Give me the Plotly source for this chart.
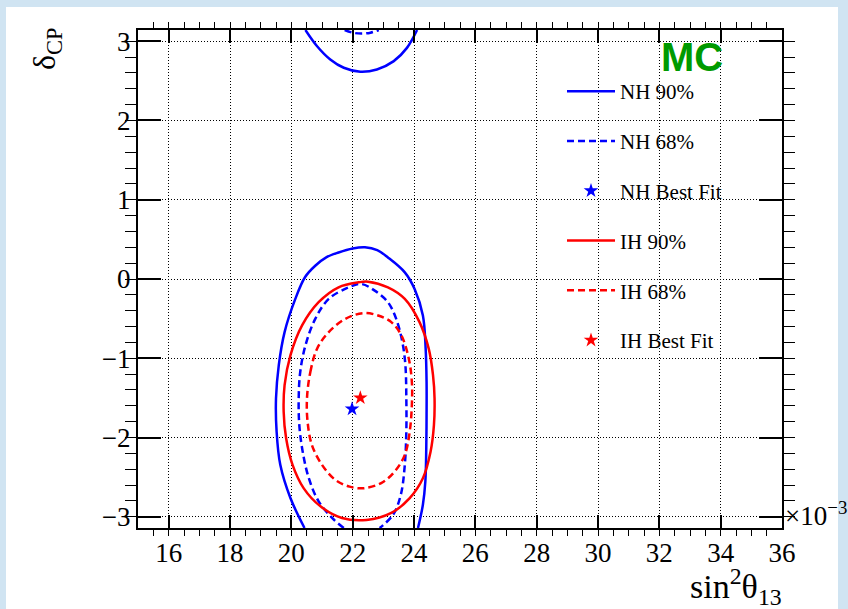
import plotly.graph_objects as go

# sin^2(theta13) in units of 1e-3, delta_CP in radians
# NH 90% C.L. contour (main part, then the piece that wraps past -pi to +pi)
nh90_s13 = [20.43, 19.97, 19.64, 19.52, 19.50, 19.59, 19.78, 20.13, 20.45, 20.78, 21.15, 21.54, 22.00, 22.40,
            22.80, 23.15, 23.70, 24.02, 24.29, 24.38, 24.41, 24.41, 24.40, 24.37, 24.29, 24.13]
nh90_dcp = [-3.1416, -2.764, -2.345, -1.926, -1.508, -1.089, -0.670, -0.251, 0.025, 0.167, 0.276, 0.335, 0.385, 0.400,
            0.365, 0.272, 0.084, -0.126, -0.461, -0.879, -1.298, -1.717, -2.136, -2.554, -2.848, -3.1416]
nh90_wrap_s13 = [20.46, 20.84, 21.27, 21.71, 22.25, 22.79, 23.34, 23.77, 24.10]
nh90_wrap_dcp = [3.1416, 2.937, 2.770, 2.665, 2.615, 2.644, 2.749, 2.916, 3.1416]

# NH 68% C.L. contour
nh68_s13 = [21.71, 21.33, 20.89, 20.57, 20.37, 20.26, 20.24, 20.29, 20.46, 20.78, 21.22, 21.87,
            22.28, 22.72, 23.15, 23.42, 23.62, 23.72, 23.75, 23.75, 23.70, 23.57, 23.32, 22.88]
nh68_dcp = [-3.1416, -3.015, -2.806, -2.513, -2.178, -1.843, -1.508, -1.173, -0.838, -0.503, -0.251, -0.105,
            -0.063, -0.147, -0.293, -0.503, -0.796, -1.089, -1.508, -1.926, -2.345, -2.722, -2.973, -3.1416]
nh68_wrap_s13 = [21.74, 22.0, 22.28, 22.58, 22.85]
nh68_wrap_dcp = [3.1416, 3.108, 3.096, 3.108, 3.1416]

# IH 90% C.L. contour (closed)
ih90_s13 = [19.75, 19.78, 19.97, 20.35, 20.89, 21.54, 22.20, 22.50, 23.15, 23.70, 24.18, 24.48,
            24.62, 24.67, 24.65, 24.54, 24.29, 23.86, 23.26, 22.45, 21.65, 20.95, 20.40, 20.04,
            19.83, 19.75]
ih90_dcp = [-1.675, -1.340, -0.963, -0.586, -0.293, -0.105, -0.042, -0.034, -0.105, -0.251, -0.544, -0.879,
            -1.214, -1.508, -1.843, -2.178, -2.513, -2.764, -2.952, -3.040, -3.015, -2.868, -2.638, -2.345,
            -2.010, -1.675]

# IH 68% C.L. contour (closed)
ih68_s13 = [20.51, 20.62, 20.84, 21.22, 21.76, 22.35, 22.83, 23.26, 23.59, 23.83, 23.93, 23.93,
            23.86, 23.70, 23.37, 22.93, 22.35, 21.90, 21.43, 21.00, 20.67, 20.53, 20.51]
ih68_dcp = [-1.508, -1.173, -0.879, -0.670, -0.503, -0.430, -0.461, -0.544, -0.712, -1.005, -1.298, -1.591,
            -1.926, -2.219, -2.429, -2.575, -2.640, -2.620, -2.533, -2.345, -2.094, -1.801, -1.508]

# best-fit points
nh_best = (21.98, -1.64)
ih_best = (22.25, -1.50)

BLUE = "#0000ff"
RED = "#ff0000"
SERIF = "Liberation Serif"

# plot-area geometry in pixels (used for placing paper-referenced decorations)
FIG_W, FIG_H = 848, 609
M_L, M_R, M_T, M_B = 138, 66, 30, 81
PW = FIG_W - M_L - M_R
PH = FIG_H - M_T - M_B


def px(xp):
    return (xp - M_L) / PW


def py(yp):
    return (FIG_H - M_B - yp) / PH


def joined(a, b):
    return a + [None] + b


LINE_OPTS = dict(width=2.5, shape="spline", smoothing=1.0)

fig = go.Figure()

fig.add_trace(go.Scatter(
    x=joined(nh90_s13, nh90_wrap_s13), y=joined(nh90_dcp, nh90_wrap_dcp),
    mode="lines", name="NH 90%", legendgroup="a",
    line=dict(color=BLUE, **LINE_OPTS)))
fig.add_trace(go.Scatter(
    x=joined(nh68_s13, nh68_wrap_s13), y=joined(nh68_dcp, nh68_wrap_dcp),
    mode="lines", name="NH 68%", legendgroup="b",
    line=dict(color=BLUE, dash="7px,4px", **LINE_OPTS)))
fig.add_trace(go.Scatter(
    x=[nh_best[0]], y=[nh_best[1]], mode="markers", name="NH Best Fit", legendgroup="c",
    marker=dict(symbol="star", color=BLUE, size=11, line=dict(width=0))))
fig.add_trace(go.Scatter(
    x=ih90_s13, y=ih90_dcp, mode="lines", name="IH 90%", legendgroup="d",
    line=dict(color=RED, **LINE_OPTS)))
fig.add_trace(go.Scatter(
    x=ih68_s13, y=ih68_dcp, mode="lines", name="IH 68%", legendgroup="e",
    line=dict(color=RED, dash="7px,4px", **LINE_OPTS)))
fig.add_trace(go.Scatter(
    x=[ih_best[0]], y=[ih_best[1]], mode="markers", name="IH Best Fit", legendgroup="f",
    marker=dict(symbol="star", color=RED, size=11, line=dict(width=0))))

axis_common = dict(
    showline=True, linewidth=2, linecolor="black", mirror="ticks",
    ticks="inside", tickcolor="black", tickwidth=1.5,
    showgrid=True, gridcolor="black", gridwidth=1, griddash="1px,2px",
    zeroline=False,
    tickfont=dict(family=SERIF, size=27, color="black"),
)

fig.update_xaxes(
    range=[15, 36], tickmode="linear", tick0=16, dtick=2, ticklen=13,
    minor=dict(tickmode="linear", tick0=15, dtick=0.5, ticklen=6, tickwidth=1,
               tickcolor="black", showgrid=False),
    **axis_common)
fig.update_yaxes(
    range=[-3.14159, 3.14159], tickmode="linear", tick0=0, dtick=1, ticklen=23,
    minor=dict(tickmode="linear", tick0=0, dtick=0.2, ticklen=11, tickwidth=1,
               tickcolor="black", showgrid=False),
    **axis_common)

annotations = [
    dict(text="<b>MC</b>", x=px(691.5), y=py(56.5), xref="paper", yref="paper",
         xanchor="center", yanchor="middle", showarrow=False,
         font=dict(family="Liberation Sans", size=40, color="#009a00")),
    dict(text="sin<sup>2</sup>θ<sub>13</sub>", x=px(784), y=py(586), xref="paper", yref="paper",
         xanchor="right", yanchor="middle", showarrow=False,
         font=dict(family=SERIF, size=34, color="black")),
    dict(text="δ<sub>CP</sub>", x=px(47), y=py(26), xref="paper", yref="paper",
         xanchor="center", yanchor="top", showarrow=False, textangle=-90,
         font=dict(family=SERIF, size=32, color="black")),
    dict(text="×10<sup>−3</sup>", x=px(783), y=py(514), xref="paper", yref="paper",
         xanchor="left", yanchor="middle", showarrow=False,
         font=dict(family=SERIF, size=27, color="black")),
]

fig.update_layout(
    width=FIG_W, height=FIG_H,
    margin=dict(l=M_L, r=M_R, t=M_T, b=M_B, pad=0),
    paper_bgcolor="#d0e4f2", plot_bgcolor="white",
    showlegend=True,
    legend=dict(x=px(562), y=py(71), xanchor="left", yanchor="top",
                bgcolor="rgba(0,0,0,0)", borderwidth=0,
                font=dict(family=SERIF, size=21, color="black"),
                tracegroupgap=19.5, itemwidth=48, traceorder="grouped"),
    annotations=annotations,
    shapes=[dict(type="rect", xref="paper", yref="paper", layer="below",
                 x0=px(6), x1=px(838), y0=py(640), y1=py(7),
                 fillcolor="white", line=dict(width=0))],
)

fig.write_html("out.html")
